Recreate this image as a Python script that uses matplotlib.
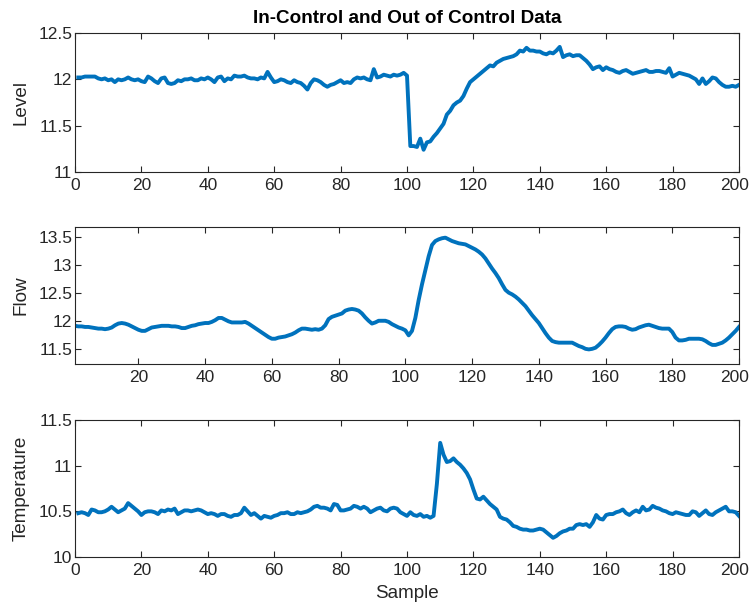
import matplotlib
matplotlib.use("Agg")
import matplotlib.pyplot as plt
import matplotlib.transforms as mtransforms
import numpy as np

plt.rcParams['font.family'] = ['Liberation Sans', 'DejaVu Sans']

samples = list(range(1, 201))

level = [
    12.02, 12.02, 12.03, 12.03, 12.03, 12.03, 12.01, 12.00, 12.01, 11.99,
    12.00, 11.97, 12.00, 11.99, 12.00, 12.02, 12.00, 11.99, 12.00, 11.98,
    11.97, 12.03, 12.01, 11.98, 11.96, 12.01, 12.02, 11.96, 11.95, 11.96,
    11.99, 11.98, 12.00, 12.00, 12.01, 11.99, 11.99, 12.01, 12.00, 12.02,
    12.00, 11.97, 12.02, 12.03, 11.98, 12.01, 12.00, 12.04, 12.03, 12.03,
    12.04, 12.02, 12.01, 12.01, 12.00, 12.02, 12.01, 12.08, 12.02, 11.97,
    11.98, 12.00, 11.99, 11.97, 11.96, 11.99, 11.97, 11.96, 11.93, 11.89,
    11.96, 12.00, 11.99, 11.97, 11.94, 11.92, 11.94, 11.95, 11.97, 11.99,
    11.96, 11.97, 11.96, 12.00, 12.02, 12.01, 12.02, 12.00, 11.99, 12.11,
    12.02, 12.03, 12.05, 12.04, 12.03, 12.05, 12.04, 12.05, 12.07, 12.04,
    11.28, 11.28, 11.27, 11.36, 11.24, 11.32, 11.33, 11.38, 11.42, 11.47,
    11.52, 11.62, 11.66, 11.72, 11.75, 11.77, 11.82, 11.90, 11.97, 12.00,
    12.03, 12.06, 12.09, 12.12, 12.15, 12.14, 12.18, 12.20, 12.22, 12.23,
    12.24, 12.25, 12.27, 12.31, 12.30, 12.34, 12.31, 12.31, 12.30, 12.30,
    12.28, 12.27, 12.29, 12.28, 12.31, 12.35, 12.24, 12.26, 12.27, 12.25,
    12.26, 12.26, 12.23, 12.20, 12.16, 12.11, 12.13, 12.14, 12.10, 12.13,
    12.11, 12.10, 12.08, 12.07, 12.09, 12.10, 12.08, 12.06, 12.07, 12.08,
    12.09, 12.10, 12.08, 12.08, 12.09, 12.09, 12.08, 12.07, 12.12, 12.03,
    12.05, 12.07, 12.06, 12.05, 12.04, 12.02, 12.00, 11.95, 12.01, 11.95,
    11.98, 12.02, 12.01, 11.97, 11.94, 11.92, 11.92, 11.93, 11.92, 11.94,
]

flow = [
    11.91, 11.90, 11.90, 11.89, 11.89, 11.88, 11.87, 11.86, 11.86, 11.85,
    11.86, 11.88, 11.92, 11.95, 11.96, 11.95, 11.93, 11.90, 11.87, 11.84,
    11.82, 11.82, 11.85, 11.88, 11.89, 11.90, 11.91, 11.91, 11.91, 11.90,
    11.90, 11.89, 11.87, 11.87, 11.89, 11.91, 11.92, 11.94, 11.95, 11.96,
    11.96, 11.98, 12.01, 12.05, 12.05, 12.02, 11.99, 11.97, 11.97, 11.97,
    11.97, 11.98, 11.95, 11.91, 11.87, 11.83, 11.79, 11.75, 11.71, 11.68,
    11.68, 11.70, 11.71, 11.72, 11.74, 11.76, 11.79, 11.83, 11.86, 11.86,
    11.85, 11.84, 11.85, 11.84, 11.86, 11.92, 12.03, 12.07, 12.09, 12.11,
    12.13, 12.18, 12.20, 12.21, 12.20, 12.18, 12.13, 12.06, 12.00, 11.95,
    11.97, 12.00, 12.00, 12.00, 11.98, 11.94, 11.91, 11.88, 11.86, 11.83,
    11.74, 11.82, 12.05, 12.37, 12.65, 12.90, 13.15, 13.35, 13.42, 13.45,
    13.47, 13.48, 13.45, 13.42, 13.40, 13.38, 13.37, 13.36, 13.33, 13.30,
    13.27, 13.23, 13.18, 13.11, 13.02, 12.93, 12.85, 12.76, 12.65, 12.55,
    12.50, 12.47, 12.43, 12.38, 12.32, 12.26, 12.18, 12.10, 12.03, 11.96,
    11.87, 11.78, 11.70, 11.64, 11.62, 11.61, 11.61, 11.61, 11.61, 11.61,
    11.58, 11.55, 11.53, 11.50, 11.49, 11.50, 11.52, 11.57, 11.63, 11.70,
    11.78, 11.85, 11.89, 11.90, 11.90, 11.89, 11.86, 11.84, 11.85, 11.88,
    11.90, 11.92, 11.93, 11.91, 11.89, 11.87, 11.86, 11.86, 11.86, 11.80,
    11.70, 11.65, 11.65, 11.66, 11.68, 11.68, 11.68, 11.68, 11.67, 11.64,
    11.60, 11.57, 11.57, 11.59, 11.61, 11.65, 11.70, 11.76, 11.82, 11.89,
]

temperature = [
    10.48, 10.49, 10.48, 10.46, 10.52, 10.51, 10.49, 10.49, 10.50, 10.52,
    10.55, 10.52, 10.49, 10.51, 10.53, 10.59, 10.56, 10.53, 10.50, 10.46,
    10.49, 10.50, 10.50, 10.49, 10.47, 10.51, 10.50, 10.52, 10.51, 10.53,
    10.47, 10.49, 10.51, 10.51, 10.50, 10.51, 10.52, 10.51, 10.49, 10.47,
    10.48, 10.47, 10.45, 10.47, 10.47, 10.45, 10.44, 10.46, 10.46, 10.48,
    10.54, 10.50, 10.46, 10.48, 10.45, 10.42, 10.45, 10.44, 10.43, 10.45,
    10.46, 10.48, 10.48, 10.49, 10.47, 10.47, 10.49, 10.48, 10.49, 10.50,
    10.52, 10.55, 10.56, 10.54, 10.54, 10.53, 10.51, 10.58, 10.57, 10.51,
    10.51, 10.52, 10.53, 10.56, 10.55, 10.53, 10.55, 10.53, 10.49, 10.51,
    10.53, 10.54, 10.51, 10.50, 10.53, 10.54, 10.53, 10.49, 10.47, 10.45,
    10.49, 10.46, 10.45, 10.47, 10.44, 10.45, 10.43, 10.45, 10.80, 11.25,
    11.12, 11.04, 11.05, 11.08, 11.04, 11.01, 10.97, 10.92, 10.85, 10.74,
    10.64, 10.63, 10.66, 10.62, 10.58, 10.55, 10.52, 10.44, 10.42, 10.41,
    10.38, 10.34, 10.33, 10.31, 10.30, 10.30, 10.29, 10.29, 10.30, 10.31,
    10.30, 10.27, 10.24, 10.21, 10.23, 10.26, 10.28, 10.29, 10.31, 10.31,
    10.35, 10.36, 10.35, 10.36, 10.33, 10.38, 10.46, 10.42, 10.41, 10.46,
    10.47, 10.47, 10.49, 10.50, 10.52, 10.48, 10.46, 10.49, 10.51, 10.49,
    10.55, 10.51, 10.52, 10.56, 10.54, 10.53, 10.51, 10.50, 10.48, 10.47,
    10.49, 10.48, 10.47, 10.46, 10.46, 10.50, 10.49, 10.45, 10.48, 10.51,
    10.47, 10.46, 10.49, 10.51, 10.53, 10.55, 10.50, 10.50, 10.49, 10.45,
]

xticks_full = [0, 20, 40, 60, 80, 100, 120, 140, 160, 180, 200]
xticks_mid = [20, 40, 60, 80, 100, 120, 140, 160, 180, 200]
level_ticks = [11, 11.5, 12, 12.5]
flow_ticks = [11.5, 12, 12.5, 13, 13.5]
temp_ticks = [10, 10.5, 11, 11.5]

line_color = '#0072BD'
axis_color = '#262626'

fig = plt.figure(figsize=(7.52, 6.09), dpi=100)
W, H = 752, 609

def make_ax(top_px, bot_px):
    left, right = 75, 739
    return fig.add_axes([left / W, 1 - bot_px / H, (right - left) / W, (bot_px - top_px) / H])

ax1 = make_ax(33, 172)
ax2 = make_ax(227, 364)
ax3 = make_ax(420, 557)

def fmt(v):
    return ('%g' % v)

def style(ax, data, xlim, xticks, ylim, yticks, ylabel):
    ax.plot(samples, data, color=line_color, lw=2.8, solid_joinstyle='round')
    ax.set_xlim(*xlim)
    ax.set_ylim(*ylim)
    ax.set_xticks(xticks)
    ax.set_xticklabels([fmt(t) for t in xticks])
    ax.set_yticks(yticks)
    ax.set_yticklabels([fmt(t) for t in yticks])
    ax.tick_params(direction='in', top=True, right=True, length=4, width=0.8,
                   colors=axis_color, labelsize=12.5, pad=2)
    ax.tick_params(axis='x', pad=4)
    for s in ax.spines.values():
        s.set_color(axis_color)
        s.set_linewidth(0.8)
    ax.set_ylabel(ylabel, fontsize=13.6, color=axis_color)
    ax.yaxis.set_label_coords(-0.068, 0.5)
    # keep the last tick label (200) inside the figure edge
    last = ax.get_xticklabels()[-1]
    last.set_transform(last.get_transform() +
                       mtransforms.ScaledTranslation(-4 / 100, 0, fig.dpi_scale_trans))

style(ax1, level, (0, 200), xticks_full, (11, 12.5), level_ticks, 'Level')
style(ax2, flow, (1, 200), xticks_mid, (11.23, 13.67), flow_ticks, 'Flow')
style(ax3, temperature, (0, 200), xticks_full, (10, 11.5), temp_ticks, 'Temperature')

ax1.set_title('In-Control and Out of Control Data', fontsize=13.6, fontweight='bold', pad=7)
ax3.set_xlabel('Sample', fontsize=13.6, color=axis_color, labelpad=5)

fig.savefig('out.png', dpi=100, facecolor='white')
